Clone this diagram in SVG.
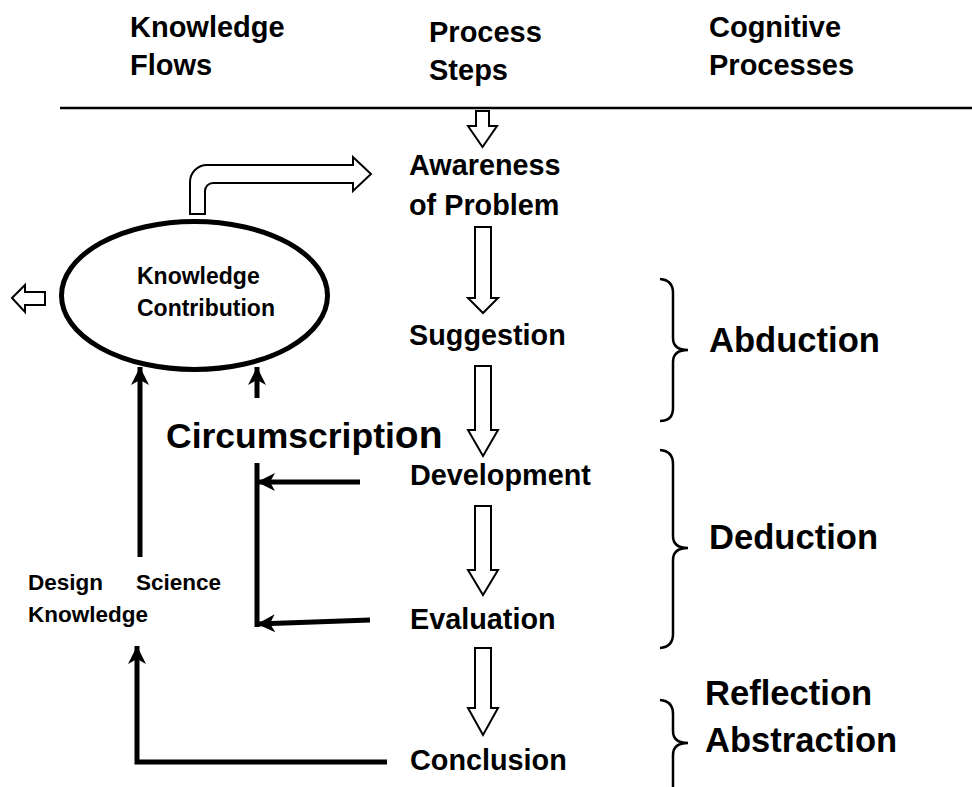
<svg xmlns="http://www.w3.org/2000/svg" width="972" height="787" viewBox="0 0 972 787">
<style>
text{font-family:"Liberation Sans",Arial,sans-serif;font-weight:bold;fill:#000}
.hdr{font-size:29px}
.step{font-size:28.8px}
.cog{font-size:34.6px}
.small{font-size:23px}
.dsk{font-size:22.5px}
.blk{fill:#fff;stroke:#000;stroke-width:2;stroke-linejoin:miter}
.con{fill:none;stroke:#000;stroke-width:5}
.brace{fill:none;stroke:#000;stroke-width:2.5}
</style>
<defs>
<marker id="ah" markerUnits="userSpaceOnUse" markerWidth="24" markerHeight="24" viewBox="0 0 24 24" refX="21" refY="12" orient="auto">
<path d="M3,3 L21,12 L3,21 L8,12 Z" fill="#000"/>
</marker>
</defs>
<rect width="972" height="787" fill="#fff"/>

<g id="headers">
<text class="hdr" x="130" y="37">Knowledge</text>
<text class="hdr" x="130" y="75">Flows</text>
<text class="hdr" x="429" y="42">Process</text>
<text class="hdr" x="429" y="80">Steps</text>
<text class="hdr" x="709" y="37">Cognitive</text>
<text class="hdr" x="709" y="75">Processes</text>
<line x1="60" y1="108" x2="972" y2="108" stroke="#000" stroke-width="2.5"/>
</g>

<g id="knowledge-contribution">
<ellipse cx="194.5" cy="295.5" rx="133" ry="74" fill="#fff" stroke="#000" stroke-width="5"/>
<text class="small" x="137" y="284">Knowledge</text>
<text class="small" x="137" y="316">Contribution</text>
</g>

<g id="awareness"><text class="step" x="409" y="175">Awareness</text><text class="step" x="409" y="215">of Problem</text></g>
<g id="suggestion"><text class="step" x="409" y="345">Suggestion</text></g>
<g id="development"><text class="step" x="410" y="485">Development</text></g>
<g id="evaluation"><text class="step" x="410" y="629">Evaluation</text></g>
<g id="conclusion"><text class="step" x="410" y="770">Conclusion</text></g>

<g id="abduction"><text class="cog" x="709" y="352">Abduction</text></g>
<g id="deduction"><text class="cog" x="709" y="549">Deduction</text></g>
<g id="reflection"><text class="cog" x="705" y="705">Reflection</text><text class="cog" x="705" y="752">Abstraction</text></g>

<g id="circumscription"><text x="166" y="448" style="font-size:35.5px">Circumscripti<tspan style="font-size:39px">on</tspan></text></g>
<g id="design-science-knowledge">
<text class="dsk" x="28" y="590">Design<tspan x="136">Science</tspan></text>
<text class="dsk" x="28" y="622">Knowledge</text>
</g>

<g id="braces">
<path class="brace" d="M660,279 Q673,280 673,293 V338 Q673,350 688,350 Q673,350 673,362 V408 Q673,421 660,421"/>
<path class="brace" d="M660,450 Q673,451 673,464 V536 Q673,548 688,548 Q673,548 673,560 V634 Q673,647 660,648"/>
<path class="brace" d="M660,700 Q673,701 673,714 V731 Q673,743 688,743 Q673,743 673,755 V790"/>
</g>

<g id="connectors">
<path class="blk" d="M476,111 H489 V126 H497 L482.5,147 L468,126 H476 Z"/>
<path class="blk" d="M475,227 H491 V298 H498 L483,313 L468,298 H475 Z"/>
<path class="blk" d="M475,366 H491 V430 H498 L483,456 L468,430 H475 Z"/>
<path class="blk" d="M475,506 H491 V570 H498 L483,595 L468,570 H475 Z"/>
<path class="blk" d="M475,648 H491 V708 H498 L483,735 L468,708 H475 Z"/>
<path class="blk" d="M190,214 V182 A17,17 0 0 1 207,165 H353 V157 L371,174 L353,191 V183 H213 A8,8 0 0 0 205,191 V214 Z"/>
<path class="blk" d="M12,298 L25,285 V292 H45 V305 H25 V312 Z"/>
<line class="con" x1="140" y1="557" x2="140" y2="367" marker-end="url(#ah)"/>
<line class="con" x1="257" y1="398" x2="257" y2="367" marker-end="url(#ah)"/>
<line class="con" x1="257" y1="463" x2="257" y2="627"/>
<line class="con" x1="360" y1="482" x2="257" y2="482" marker-end="url(#ah)"/>
<line class="con" x1="370" y1="620" x2="257" y2="624" marker-end="url(#ah)"/>
<polyline class="con" points="387,762 137,762 137,646" marker-end="url(#ah)"/>
</g>
</svg>
